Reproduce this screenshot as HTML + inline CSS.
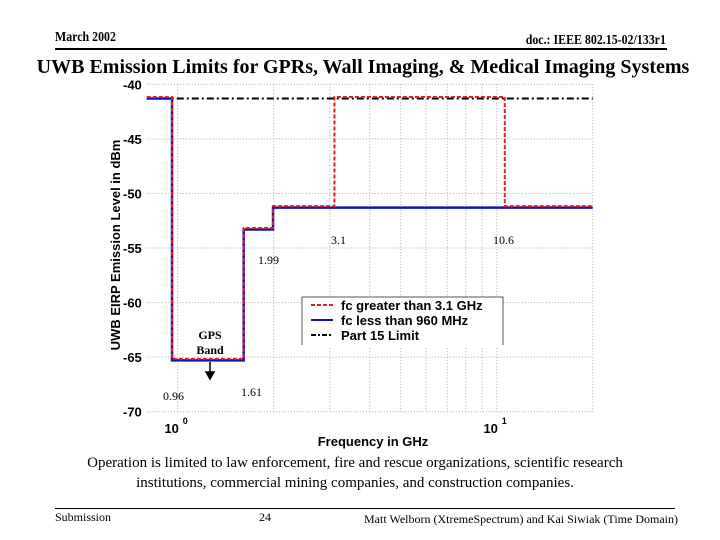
<!DOCTYPE html>
<html><head><meta charset="utf-8"><style>
body{margin:0;background:#fff;width:720px;height:540px;overflow:hidden;position:relative;font-family:"Liberation Serif",serif}
.t{position:absolute;white-space:nowrap}
</style></head><body>
<div class="t" style="left:55px;top:30px;font-size:14px;font-weight:bold;transform:scaleX(0.85);transform-origin:left">March 2002</div>
<div class="t" style="right:54px;top:33px;font-size:14px;font-weight:bold;transform:scaleX(0.85);transform-origin:right">doc.: IEEE 802.15-02/133r1</div>
<div style="position:absolute;left:55px;top:48px;width:612px;height:2px;background:#000"></div>
<div class="t" style="left:0;width:726px;text-align:center;top:56px;font-size:20px;font-weight:bold">UWB Emission Limits for GPRs, Wall Imaging, &amp; Medical Imaging Systems</div>
<svg id="chart" width="720" height="540" style="position:absolute;left:0;top:0" font-family="Liberation Sans, sans-serif"></svg>
<div class="t" style="left:0;width:710px;text-align:center;top:455px;font-size:15px">Operation is limited to law enforcement, fire and rescue organizations, scientific research</div>
<div class="t" style="left:0;width:710px;text-align:center;top:475px;font-size:15px">institutions, commercial mining companies, and construction companies.</div>
<div style="position:absolute;left:55px;top:508px;width:620px;height:1px;background:#000"></div>
<div class="t" style="left:55px;top:510px;font-size:12px">Submission</div>
<div class="t" style="left:259px;top:510px;font-size:12px">24</div>
<div class="t" style="right:42px;top:512px;font-size:12px">Matt Welborn (XtremeSpectrum) and Kai Siwiak (Time Domain)</div>
<script>
const edgesGHz=[0.8,0.96,1.61,1.99,3.1,10.6,20];
const blueLevels=[-41.3,-65.3,-53.3,-51.3,-51.3,-51.3];
const redLevels=[-41.3,-65.3,-53.3,-51.3,-41.3,-51.3];
const part15Level=[-41.3];
const yTicks=[-40,-45,-50,-55,-60,-65,-70];
const xGrid=[1,2,3,4,5,6,7,8,9,10,20];
const NS="http://www.w3.org/2000/svg";
const svg=document.getElementById('chart');
const X=f=>177.7+319*Math.log10(f);
const Y=v=>84.3+(v-(-40))*(-327.4/30);
function mk(tag,attrs,parent){const e=document.createElementNS(NS,tag);for(const k in attrs)e.setAttribute(k,attrs[k]);(parent||svg).appendChild(e);return e;}
const x0=X(edgesGHz[0]),x1=X(edgesGHz[edgesGHz.length-1]);
yTicks.forEach(v=>{
 const g=mk('line',{x1:x0,x2:x1,y1:Y(v),y2:Y(v),stroke:'#aaa','stroke-dasharray':'1 2'});
 
 
 const t=mk('text',{x:x0-5,y:Y(v)+5,'text-anchor':'end','font-size':13,'font-weight':'bold'});
 t.textContent=v;
 
 
});
xGrid.forEach(f=>{
 const g=mk('line',{x1:X(f),x2:X(f),y1:Y(-40),y2:Y(-70),stroke:'#aaa','stroke-dasharray':'1 2'});
 
 
});
[[1,'0'],[10,'1']].forEach(([f,e])=>{
 const t=mk('text',{x:X(f)-6,y:433,'text-anchor':'middle','font-size':13,'font-weight':'bold'});
 t.textContent='10';
 
 
 const s=mk('text',{x:X(f)+5,y:424,'font-size':9,'font-weight':'bold'});
 s.textContent=e;
 
 
});
function stepPath(levels){let d='';levels.forEach((v,i)=>{const a=X(edgesGHz[i]),b=X(edgesGHz[i+1]);d+=(i?'L':'M')+a+' '+Y(v)+'L'+b+' '+Y(v);});return d;}
const p15=mk('line',{x1:x0,x2:x1,y1:Y(part15Level[0]),y2:Y(part15Level[0]),stroke:'#000','stroke-width':2,'stroke-dasharray':'7 3 2 3'});


const bl=mk('path',{d:stepPath(blueLevels),fill:'none',stroke:'#1010c0','stroke-width':2.5});


const rd=mk('path',{d:stepPath(redLevels),fill:'none',stroke:'#e02020','stroke-width':2,'stroke-dasharray':'4 2',transform:'translate(0,-1.5)'});


const ann=[['3.1',331,244],['10.6',493,244],['1.99',258,264],['0.96',163,400],['1.61',241,396],['GPS',210,339],['Band',210,354]];
ann.forEach(([s,x,y])=>{const t=mk('text',{x:x,y:y,'font-size':12,'font-family':'Liberation Serif, serif','font-weight':isNaN(s)?'bold':'normal','text-anchor':isNaN(s)?'middle':'start'});t.textContent=s;
 
 });
const ar=mk('path',{d:'M210 362L210 374M206 372L210 379L214 372Z',stroke:'#000',fill:'#000','stroke-width':1.5});


const lg=mk('g',{});


mk('rect',{x:302,y:297,width:201,height:50,fill:'#fff',stroke:'none'},lg);
mk('path',{d:'M302 345L302 297L503 297L503 345',fill:'none',stroke:'#555'},lg);
[['fc greater than 3.1 GHz','#e02020','4 2',305],['fc less than 960 MHz','#1010c0','',320],['Part 15 Limit','#000','5 2 2 2',335]].forEach(([s,c,da,y])=>{
 mk('line',{x1:311,x2:333,y1:y,y2:y,stroke:c,'stroke-width':2,'stroke-dasharray':da},lg);
 const t=mk('text',{x:341,y:y+5,'font-size':13,'font-weight':'bold'},lg);t.textContent=s;
 
 
});
const yl=mk('text',{x:0,y:0,'font-size':13,'font-weight':'bold','text-anchor':'middle',transform:'translate(120,245) rotate(-90)'});
yl.textContent='UWB EIRP Emission Level in dBm';


const xl=mk('text',{x:373,y:446,'font-size':13,'font-weight':'bold','text-anchor':'middle'});
xl.textContent='Frequency in GHz';


</script>
</body></html>
